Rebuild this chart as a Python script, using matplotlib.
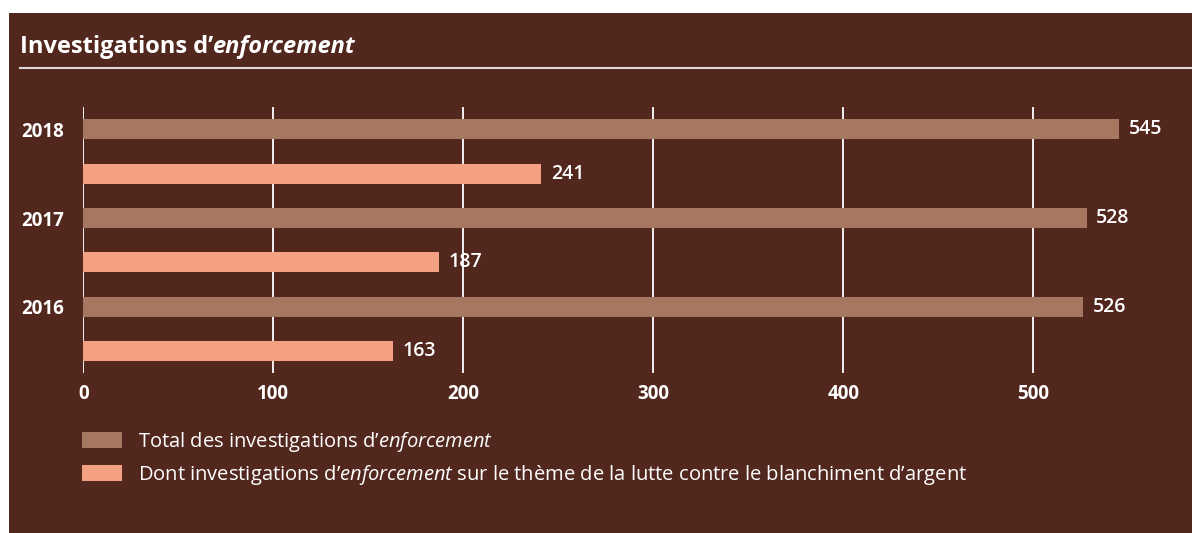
import matplotlib
matplotlib.use("Agg")
import matplotlib.pyplot as plt
from matplotlib.patches import Rectangle, Patch
from matplotlib.lines import Line2D
import numpy as np

# data
years = ["2018", "2017", "2016"]
total = [545, 528, 526]
aml = [241, 187, 163]
xticks = [0, 100, 200, 300, 400, 500]
series_labels = ["Total des investigations d’$\\mathit{enforcement}$",
                 "Dont investigations d’$\\mathit{enforcement}$ sur le thème de la lutte contre le blanchiment d’argent"]

bg = "#52271E"
c_total = "#A67862"
c_aml = "#F4A083"
fg = "#FFFFFF"

plt.rcParams["font.family"] = ["Open Sans", "DejaVu Sans"]
plt.rcParams["mathtext.fontset"] = "custom"
plt.rcParams["mathtext.rm"] = "Open Sans"
plt.rcParams["mathtext.it"] = "Open Sans:italic"

W, H = 1192, 533
fig = plt.figure(figsize=(W / 100, H / 100), dpi=100)
fig.patch.set_facecolor("white")
fig.patches.append(Rectangle((9 / W, 0), 1 - 9 / W, 1 - 13 / H, transform=fig.transFigure,
                             facecolor=bg, edgecolor="none", zorder=-5))

# title, with the italic word chained after the upright part
t1 = fig.text(20 / W, 1 - 53 / H, "Investigations d’", color=fg, fontsize=17,
              weight="bold", va="baseline", ha="left")
fig.add_artist(plt.Annotation("enforcement", xy=(1, 0), xycoords=t1, va="bottom", ha="left",
                              color=fg, fontsize=17, weight="bold", style="italic"))
fig.add_artist(Line2D([20 / W, 1], [1 - 68 / H] * 2, transform=fig.transFigure,
                      color="#DDDDDD", lw=1.5))

ax = fig.add_axes([83.3 / W, 1 - 373.3 / H, (1185.3 - 83.3) / W, (373.3 - 107.3) / H])
ax.set_facecolor("none")

idx = np.arange(len(years))
y_total = idx * 2
y_aml = idx * 2 + 1
h = 0.45
b1 = ax.barh(y_total, total, height=h, color=c_total, label=series_labels[0], zorder=3)
b2 = ax.barh(y_aml, aml, height=h, color=c_aml, label=series_labels[1], zorder=3)
for bars in (b1, b2):
    ax.bar_label(bars, padding=7, color=fg, fontsize=14, weight="semibold")

ax.set_xlim(0, 580)
ax.set_ylim(len(years) * 2 - 0.5, -0.5)
ax.set_xticks(xticks)
ax.set_yticks(y_total)
ax.set_yticklabels(years)
ax.tick_params(axis="both", length=0, colors=fg, labelsize=13.5)
ax.tick_params(axis="x", pad=8)
ax.tick_params(axis="y", pad=14)
for lab in ax.get_xticklabels() + ax.get_yticklabels():
    lab.set_fontweight("bold")
ax.grid(axis="x", color="white", lw=1.3)
ax.set_axisbelow(True)
for s in ax.spines.values():
    s.set_visible(False)

handles = [Patch(facecolor=c_total), Patch(facecolor=c_aml)]
fs = 14.5
fig.legend(handles, series_labels, loc="upper left", bbox_to_anchor=(82 / W, 1 - 430 / H),
           frameon=False, fontsize=fs, labelcolor=fg, borderpad=0, borderaxespad=0,
           handlelength=1.97, handleheight=0.87, handletextpad=0.8, labelspacing=0.46)

fig.savefig("out.png", dpi=100, facecolor=fig.get_facecolor())
